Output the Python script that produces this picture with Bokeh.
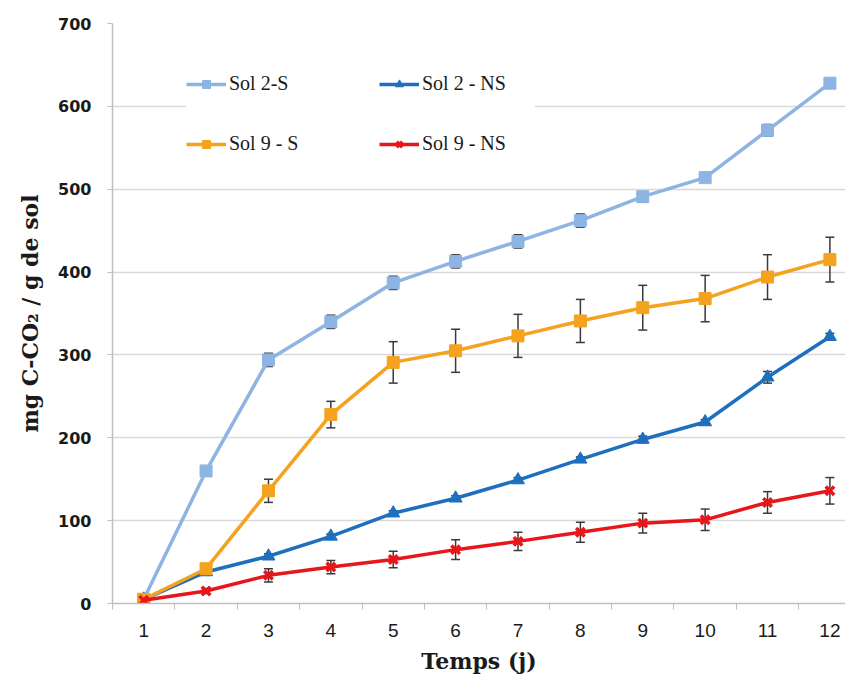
from bokeh.plotting import figure
from bokeh.models import ColumnDataSource, Whisker, TeeHead, FixedTicker, Legend, LegendItem, Range1d
from bokeh.embed import file_html
from bokeh.resources import INLINE

days = list(range(1, 13))
sol2_s = [5, 160, 294, 340, 387, 413, 437, 462, 491, 514, 571, 628]
sol2_s_err = [0, 0, 8, 8, 8, 8, 8, 8, 6, 5, 7, 5]
sol2_ns = [5, 38, 57, 81, 109, 127, 149, 174, 198, 219, 273, 322]
sol2_ns_err = [0, 0, 3, 3, 3, 3, 3, 3, 4, 3, 7, 4]
sol9_s = [5, 42, 136, 228, 291, 305, 323, 341, 357, 368, 394, 415]
sol9_s_err = [0, 0, 14, 16, 25, 26, 26, 26, 27, 28, 27, 27]
sol9_ns = [4, 15, 34, 44, 53, 65, 75, 86, 97, 101, 122, 136]
sol9_ns_err = [0, 3, 8, 8, 10, 12, 11, 12, 12, 13, 13, 16]

y_ticks = [0, 100, 200, 300, 400, 500, 600, 700]

series = [
    ("Sol 2-S", sol2_s, sol2_s_err, "#8DB4E2", "square"),
    ("Sol 2 - NS", sol2_ns, sol2_ns_err, "#1F6FBF", "triangle"),
    ("Sol 9 - S", sol9_s, sol9_s_err, "#F5A21E", "square"),
    ("Sol 9 - NS", sol9_ns, sol9_ns_err, "#E8161B", "x"),
]

p = figure(width=845, height=676, output_backend="svg", toolbar_location=None,
           x_range=Range1d(0.5, 12.25), y_range=Range1d(0, 700),
           min_border_left=112, min_border_right=0, min_border_top=23, min_border_bottom=73)
p.outline_line_color = None
p.background_fill_color = "white"

items = {}
for name, vals, errs, color, marker in series:
    src = ColumnDataSource(dict(x=days, y=vals))
    ln = p.line("x", "y", source=src, line_color=color, line_width=3.5)
    if marker == "x":
        mk = p.scatter("x", "y", source=src, marker="x", size=12, line_color=color, line_width=3.5)
    elif marker == "triangle":
        mk = p.scatter("x", "y", source=src, marker="triangle", size=13, fill_color=color, line_color=color)
    else:
        mk = p.scatter("x", "y", source=src, marker="square", size=12, fill_color=color, line_color=color)
    items[name] = [ln, mk]

for name, vals, errs, color, marker in series:
    xs = [d for d, e in zip(days, errs) if e > 0]
    lo = [v - e for v, e in zip(vals, errs) if e > 0]
    hi = [v + e for v, e in zip(vals, errs) if e > 0]
    wsrc = ColumnDataSource(dict(x=xs, lo=lo, hi=hi))
    w = Whisker(base="x", lower="lo", upper="hi", source=wsrc,
                line_color="#3a3a3a", line_width=1.5,
                upper_head=TeeHead(size=9, line_color="#3a3a3a", line_width=1.5),
                lower_head=TeeHead(size=9, line_color="#3a3a3a", line_width=1.5))
    p.add_layout(w)

# axes
p.xaxis.ticker = FixedTicker(ticks=days, minor_ticks=[d + 0.5 for d in range(0, 13)])
p.xaxis.major_tick_line_color = None
p.xaxis.minor_tick_line_color = "#bfbfbf"
p.xaxis.minor_tick_out = 6
p.xaxis.minor_tick_in = 0
p.xaxis.axis_line_color = "#bfbfbf"
p.xaxis.axis_line_width = 1.5
p.xaxis.major_label_text_font = "Liberation Sans"
p.xaxis.major_label_text_font_size = "19px"
p.xaxis.major_label_text_color = "#1a1a1a"
p.xaxis.major_label_standoff = 14
p.xaxis.axis_label = "Temps (j)"
p.xaxis.axis_label_text_font = "DejaVu Serif"
p.xaxis.axis_label_text_font_style = "bold"
p.xaxis.axis_label_text_font_size = "22px"
p.xaxis.axis_label_text_color = "#1a1a1a"
p.xaxis.axis_label_standoff = 8

p.yaxis.ticker = FixedTicker(ticks=y_ticks)
p.yaxis.minor_tick_line_color = None
p.yaxis.major_tick_line_color = "#bfbfbf"
p.yaxis.major_tick_out = 5
p.yaxis.major_tick_in = 0
p.yaxis.axis_line_color = "#bfbfbf"
p.yaxis.axis_line_width = 1.5
p.yaxis.major_label_text_font = "DejaVu Sans"
p.yaxis.major_label_text_font_style = "bold"
p.yaxis.major_label_text_font_size = "16px"
p.yaxis.major_label_text_color = "#1a1a1a"
p.yaxis.major_label_standoff = 16
p.yaxis.axis_label = "mg C-CO₂ / g de sol"
p.yaxis.axis_label_text_font = "DejaVu Serif"
p.yaxis.axis_label_text_font_style = "bold"
p.yaxis.axis_label_text_font_size = "22px"
p.yaxis.axis_label_text_color = "#1a1a1a"
p.yaxis.axis_label_standoff = 12

p.xgrid.grid_line_color = None
p.ygrid.grid_line_color = "#d9d9d9"
p.ygrid.grid_line_width = 1.5

legend = Legend(items=[LegendItem(label=n, renderers=items[n]) for n in
                       ["Sol 2-S", "Sol 9 - S", "Sol 2 - NS", "Sol 9 - NS"]],
                ncols=2, location=(74, 448),
                background_fill_color="white", background_fill_alpha=1.0,
                border_line_color=None,
                label_text_font="Liberation Serif", label_text_font_size="20px",
                label_text_color="#1a1a1a",
                glyph_width=40, glyph_height=20, label_height=20, label_width=113,
                label_standoff=3, spacing=37, padding=20, margin=0)
p.add_layout(legend, "center")

open("out.html", "w").write(file_html(p, INLINE))
